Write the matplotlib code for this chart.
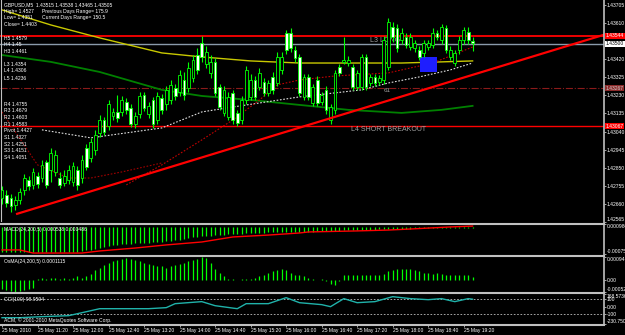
import matplotlib
matplotlib.use('Agg')
import matplotlib.pyplot as plt
from matplotlib.lines import Line2D
from matplotlib.patches import Rectangle
import numpy as np

plt.rcParams['font.family'] = ['Liberation Sans', 'DejaVu Sans']

# GBPUSD M5, 25 May 2010
opens = [1.42692, 1.42707, 1.42692, 1.42655, 1.42681, 1.42734, 1.42786, 1.42760, 1.42807, 1.42796,
         1.42880, 1.42839, 1.42828, 1.42796, 1.42770, 1.42786, 1.42776, 1.42839, 1.42796, 1.42954,
         1.42901, 1.42944, 1.43033, 1.43101, 1.43070, 1.43122, 1.43143, 1.43143, 1.43196, 1.43164,
         1.43080, 1.43133, 1.43232, 1.43133, 1.43206, 1.43101, 1.43217, 1.43185, 1.43206, 1.43269,
         1.43248, 1.43311, 1.43269, 1.43322, 1.43442, 1.43505, 1.43395, 1.43348, 1.43406, 1.43274,
         1.43138, 1.43117, 1.43243, 1.43138, 1.43101, 1.43206, 1.43222, 1.43311, 1.43274, 1.43301,
         1.43243, 1.43327, 1.43295, 1.43364, 1.43558, 1.43558, 1.43469, 1.43432, 1.43222, 1.43327,
         1.43190, 1.43311, 1.43196, 1.43259, 1.43101, 1.43154, 1.43379, 1.43406, 1.43400, 1.43379,
         1.43274, 1.43274, 1.43432, 1.43295, 1.43327, 1.43301, 1.43311, 1.43379, 1.43589, 1.43584,
         1.43521, 1.43537, 1.43484, 1.43479, 1.43469, 1.43453, 1.43484, 1.43495, 1.43558, 1.43521,
         1.43584, 1.43432, 1.43400, 1.43469, 1.43521, 1.43563, 1.43515]
highs = [1.42755, 1.42734, 1.42713, 1.42702, 1.42744, 1.42817, 1.42807, 1.42849, 1.42828, 1.42891,
         1.42891, 1.42954, 1.42944, 1.42828, 1.42839, 1.42865, 1.42880, 1.42859, 1.42917, 1.42975,
         1.43007, 1.43049, 1.43127, 1.43117, 1.43206, 1.43164, 1.43232, 1.43227, 1.43217, 1.43185,
         1.43143, 1.43248, 1.43248, 1.43196, 1.43222, 1.43248, 1.43238, 1.43280, 1.43311, 1.43290,
         1.43364, 1.43353, 1.43406, 1.43442, 1.43479, 1.43542, 1.43490, 1.43442, 1.43426, 1.43290,
         1.43280, 1.43248, 1.43259, 1.43154, 1.43227, 1.43385, 1.43343, 1.43332, 1.43374, 1.43322,
         1.43311, 1.43353, 1.43458, 1.43458, 1.43574, 1.43584, 1.43490, 1.43447, 1.43343, 1.43343,
         1.43290, 1.43332, 1.43248, 1.43280, 1.43185, 1.43364, 1.43395, 1.43537, 1.43437, 1.43395,
         1.43364, 1.43447, 1.43447, 1.43343, 1.43343, 1.43337, 1.43542, 1.43637, 1.43616, 1.43605,
         1.43584, 1.43558, 1.43558, 1.43521, 1.43490, 1.43521, 1.43521, 1.43584, 1.43574, 1.43605,
         1.43600, 1.43490, 1.43469, 1.43542, 1.43589, 1.43589, 1.43538]
lows = [1.42660, 1.42644, 1.42618, 1.42629, 1.42660, 1.42707, 1.42734, 1.42739, 1.42744, 1.42776,
        1.42744, 1.42776, 1.42807, 1.42744, 1.42755, 1.42765, 1.42755, 1.42734, 1.42770, 1.42839,
        1.42880, 1.42917, 1.43012, 1.43022, 1.43049, 1.43101, 1.43091, 1.43122, 1.43133, 1.43064,
        1.43059, 1.43112, 1.43148, 1.43112, 1.43059, 1.43080, 1.43133, 1.43154, 1.43185, 1.43206,
        1.43227, 1.43206, 1.43248, 1.43301, 1.43343, 1.43406, 1.43374, 1.43322, 1.43227, 1.43154,
        1.43122, 1.43101, 1.43080, 1.43070, 1.43080, 1.43185, 1.43206, 1.43206, 1.43259, 1.43227,
        1.43227, 1.43238, 1.43280, 1.43343, 1.43447, 1.43458, 1.43406, 1.43227, 1.43206, 1.43206,
        1.43175, 1.43175, 1.43180, 1.43133, 1.43080, 1.43133, 1.43332, 1.43395, 1.43385, 1.43259,
        1.43259, 1.43259, 1.43259, 1.43280, 1.43280, 1.43285, 1.43290, 1.43364, 1.43511, 1.43458,
        1.43500, 1.43479, 1.43469, 1.43458, 1.43416, 1.43432, 1.43469, 1.43479, 1.43521, 1.43500,
        1.43453, 1.43416, 1.43385, 1.43447, 1.43500, 1.43500, 1.43465]
closes = [1.42734, 1.42665, 1.42650, 1.42681, 1.42723, 1.42796, 1.42755, 1.42828, 1.42765, 1.42865,
          1.42760, 1.42928, 1.42917, 1.42760, 1.42807, 1.42839, 1.42859, 1.42760, 1.42891, 1.42854,
          1.42986, 1.43022, 1.43101, 1.43038, 1.43185, 1.43143, 1.43112, 1.43206, 1.43154, 1.43080,
          1.43122, 1.43227, 1.43164, 1.43175, 1.43080, 1.43227, 1.43154, 1.43259, 1.43285, 1.43227,
          1.43337, 1.43232, 1.43374, 1.43416, 1.43364, 1.43432, 1.43458, 1.43406, 1.43243, 1.43169,
          1.43259, 1.43222, 1.43101, 1.43085, 1.43206, 1.43364, 1.43311, 1.43222, 1.43348, 1.43243,
          1.43295, 1.43259, 1.43432, 1.43432, 1.43469, 1.43479, 1.43426, 1.43243, 1.43327, 1.43222,
          1.43274, 1.43190, 1.43232, 1.43154, 1.43169, 1.43348, 1.43348, 1.43416, 1.43416, 1.43274,
          1.43348, 1.43432, 1.43274, 1.43327, 1.43295, 1.43322, 1.43521, 1.43616, 1.43537, 1.43479,
          1.43558, 1.43495, 1.43537, 1.43505, 1.43432, 1.43505, 1.43505, 1.43558, 1.43537, 1.43589,
          1.43469, 1.43469, 1.43453, 1.43521, 1.43574, 1.43521, 1.43505]

# moving averages (bar index, price)
ma_yellow_x = [0, 11, 22, 36, 45, 56, 67, 78, 90, 99, 106]
ma_yellow_y = [1.43679, 1.43600, 1.43532, 1.43453, 1.43432, 1.43411, 1.43400, 1.43400, 1.43400, 1.43406, 1.43411]
ma_green_x = [0, 11, 22, 36, 45, 56, 67, 78, 90, 99, 106]
ma_green_y = [1.43442, 1.43406, 1.43353, 1.43259, 1.43227, 1.43206, 1.43180, 1.43154, 1.43138, 1.43154, 1.43175]
ma_white_x = [9, 20, 36, 45, 52, 67, 81, 87, 94, 101, 106]
ma_white_y = [1.43049, 1.43007, 1.43059, 1.43143, 1.43169, 1.43222, 1.43259, 1.43295, 1.43327, 1.43364, 1.43400]
ma_red_x = [28, 36, 45, 52, 58, 62, 67, 75, 87, 97, 106]
ma_red_y = [1.42760, 1.42865, 1.42996, 1.43101, 1.43206, 1.43285, 1.43311, 1.43332, 1.43348, 1.43400, 1.43484]
ma_reddot_x = [0, 8, 15, 20, 27, 36]
ma_reddot_y = [1.43143, 1.42865, 1.42796, 1.42796, 1.42828, 1.42875]

trend_x = [3.4, 135.4]
trend_y = [1.42608, 1.43547]
box_x = [94.1, 97.9]
box_y = [1.43353, 1.43432]

levels = {'H5': 1.43544, 'H4': 1.43500, 'mid': 1.43267, 'L4': 1.43067}

macd = [-0.00064] * 18 + [
    -0.00058, -0.00052, -0.00052, -0.00047, -0.00041, -0.00035, -0.00029,
    -0.00023, -0.00023, -0.00018, -0.00018, -0.00018, -0.00012, -0.00012, -0.00012,
    -0.00012, -0.00006, -0.00006, -0.00006, 0.0, 0.0, 0.00006, 0.00006,
    0.00011, 0.00017, 0.00023, 0.00023, 0.00029, 0.00029, 0.00029, 0.00034,
    0.00034, 0.00034, 0.0004, 0.0004, 0.0004, 0.0004, 0.00046, 0.00046,
    0.00046, 0.00046, 0.00046, 0.00052, 0.00052, 0.00052, 0.00052, 0.00052,
    0.00052, 0.00052, 0.00052, 0.00052, 0.00052, 0.00052, 0.00058, 0.00058,
    0.00058, 0.00058, 0.00058, 0.00058, 0.00063, 0.00063, 0.00063, 0.00063,
    0.00063, 0.00063, 0.00063, 0.00063, 0.00069, 0.00069, 0.00069, 0.00069,
    0.00069, 0.00069, 0.00069, 0.00069, 0.00075, 0.00075, 0.00075, 0.00075,
    0.00075, 0.00075, 0.00075, 0.00075, 0.00075, 0.00075, 0.00075, 0.00075, 0.00075, 0.00075]
signal_x = [0, 4, 7, 18, 22, 30, 37, 45, 52, 60, 67, 69, 80, 87, 92, 101, 106]
signal_y = [-0.00052, -0.00052, -0.0007, -0.0007, -0.00058, -0.00041, -0.00023, -0.00006,
            0.00023, 0.00034, 0.00046, 0.00052, 0.00058, 0.00063, 0.00069, 0.00081, 0.00086]

osma = [-0.00038, -0.00042, -0.00046, -0.0005, -0.00046, -0.00042, -0.00038, -0.00034,
        0.00004, 0.00008, 0.00004, 0.00008, 0.00008, 0.00004, 0.00008, 0.00004, 0.00008, 0.00013, 0.00008,
        0.00013, 0.00025, 0.00038, 0.0005, 0.00059, 0.00067,
        0.00076, 0.0008, 0.00084, 0.00088, 0.00084, 0.0008, 0.00076,
        0.00067, 0.00063, 0.00059, 0.00055, 0.00055, 0.0005, 0.00055, 0.00059,
        0.00063, 0.00071, 0.00076, 0.0008, 0.00084, 0.00092, 0.00088,
        0.00067, 0.00046, 0.00029, 0.00013, 0.00004,
        0.00004, 0.0, 0.00004, 0.00004, 0.00004, 0.00008,
        0.00013, 0.00021, 0.00029, 0.00034, 0.00038, 0.00042, 0.00038,
        0.00029, 0.00021, 0.00017, 0.00013, 0.00008,
        0.00004, 0.0, 0.00004,
        -0.00008, -0.00017, -0.00021, -0.00008,
        0.00017, 0.00021, 0.00021, 0.00021, 0.00021, 0.00017, 0.00021, 0.00021, 0.00021, 0.00025, 0.00034, 0.00038,
        0.00042, 0.00046, 0.00046, 0.00042, 0.00038, 0.00034,
        0.00029, 0.00029, 0.00025, 0.00029, 0.00025, 0.00021,
        0.00017, 0.00017, 0.00021, 0.00017, 0.00017, 0.00011]

cci_x = [0, 4, 9, 15, 19, 22, 26, 33, 37, 39, 45, 48, 53, 55, 60, 64, 67, 72, 74, 77, 80, 84, 88, 92, 96, 99, 102, 105, 106]
cci_y = [-147, -147, -133, -120, -67, -27, -27, -27, -13, 40, 67, 13, -27, 40, 40, 120, 53, 27, 0, 107,
         53, 67, 133, 107, 93, 107, 67, 107, 99]

time_pos = [0, 8, 16, 24, 32, 40, 48, 56, 64, 72, 80, 88, 96, 104]
time_lbl = ['25 May 2010', '25 May 11:20', '25 May 12:00', '25 May 12:40', '25 May 13:20',
            '25 May 14:00', '25 May 14:40', '25 May 15:20', '25 May 16:00', '25 May 16:40',
            '25 May 17:20', '25 May 18:00', '25 May 18:40', '25 May 19:20']

price_ticks = [1.43705, 1.43610, 1.43420, 1.43325, 1.43230, 1.43135, 1.43040,
               1.42945, 1.42850, 1.42755, 1.42660, 1.42565]

# ---------------- figure ----------------
W, H = 625, 335
fig = plt.figure(figsize=(W / 100, H / 100), dpi=100, facecolor='black')
LIME = '#00ff00'
GRAY = '#c0c0c0'
XL = (-0.45, 135.6)
FS = 3.6   # terminal-sized small font


def px_axes(x0, y0, x1, y1):
    a = fig.add_axes([x0 / W, 1 - y1 / H, (x1 - x0) / W, (y1 - y0) / H])
    a.set_facecolor('black')
    for s in a.spines.values():
        s.set_visible(False)
    a.set_xlim(*XL)
    a.set_xticks([])
    a.yaxis.tick_right()
    a.tick_params(axis='y', direction='out', length=1.5, width=0.6, color=GRAY,
                  labelsize=FS, labelcolor='white', pad=0.5)
    return a


def set_scale(a, ticks, labels):
    a.set_yticks(ticks)
    a.set_yticklabels(labels)
    lo, hi = a.get_ylim()
    # keep end labels inside their own window
    for t in a.get_yticklabels():
        txt = t.get_text()
        if txt == labels[0] and hi - ticks[0] < 0.02 * (hi - lo):
            t.set_va('top')
        if txt == labels[-1] and ticks[-1] - lo < 0.02 * (hi - lo):
            t.set_va('bottom')


def ftext(x, y, s, **kw):
    kw.setdefault('color', 'white')
    kw.setdefault('fontsize', FS)
    fig.text(x / W, 1 - y / H, s, va='center', ha='left', **kw)


ax = px_axes(0, 0, 604, 222)
ax.set_ylim(1.425655, 1.43731)
set_scale(ax, price_ticks, ['%.5f' % v for v in price_ticks])

x = np.arange(len(opens))
o = np.array(opens); c = np.array(closes)
ax.axhline(levels['H5'], color='red', lw=1.3, zorder=1)
ax.axhline(levels['H4'], color='#8a9aaa', lw=1.0, zorder=1)
ax.axhline(levels['mid'], color='#8b1a1a', lw=0.8, ls='-.', zorder=1)
ax.axhline(levels['L4'], color='red', lw=1.0, zorder=1)

ax.plot(ma_yellow_x, ma_yellow_y, color='#c8c800', lw=1.0, zorder=2)
ax.plot(ma_green_x, ma_green_y, color='#008000', lw=1.3, zorder=2)
ax.plot(ma_white_x, ma_white_y, color='#e0e0e0', lw=0.8, ls=(0, (1.5, 1.5)), zorder=2)
ax.plot(ma_red_x, ma_red_y, color='#c00000', lw=0.8, ls=(0, (1.5, 1.5)), zorder=2)
ax.plot(ma_reddot_x, ma_reddot_y, color='#a00000', lw=0.8, ls=(0, (1.5, 1.5)), zorder=2)

ax.add_patch(Rectangle((box_x[0], box_y[0]), box_x[1] - box_x[0], box_y[1] - box_y[0],
                       facecolor='#1e1eff', edgecolor='none', zorder=2))

ax.vlines(x, lows, highs, color=LIME, lw=0.8, zorder=3)
bottom = np.minimum(o, c)
height = np.maximum(np.abs(c - o), 0.00002)
faces = ['white' if cc < oo else 'black' for oo, cc in zip(o, c)]
ax.bar(x, height, bottom=bottom, width=0.62, color=faces, edgecolor=LIME, linewidth=0.6, zorder=4)

ax.plot(trend_x, trend_y, color='red', lw=1.6, zorder=5)

ax.text(78.5, levels['L4'], 'L4 SHORT BREAKOUT', color='#a0a0a0', fontsize=5, va='top', zorder=1)
ax.text(83.0, levels['H4'], 'L3 LONG', color='#a0a0a0', fontsize=5, va='bottom', zorder=1)
ax.text(86.0, levels['mid'], '61', color='#a0a0a0', fontsize=4.5, va='top', zorder=1)
ax.axvline(-0.3, color=GRAY, lw=0.8)

# boxed price labels on the scale
for val, fc, tc in [(levels['H5'], 'red', 'white'), (levels['H4'], 'white', 'black'),
                    (levels['mid'], '#8b2a2a', '#d0d0d0'), (levels['L4'], 'red', 'white')]:
    ax.text(1.003, val, '%.5f' % val, transform=ax.get_yaxis_transform(), fontsize=FS,
            color=tc, va='center', ha='left', clip_on=False,
            bbox=dict(boxstyle='square,pad=0.1', fc=fc, ec='none'))

# MACD
am = px_axes(0, 224, 604, 254)
am.set_ylim(-0.000755, 0.00098)
set_scale(am, [0.00098, -0.000755], ['0.000980', '-0.000755'])
am.vlines(x, macd, 0.00078, color=LIME, lw=0.9)
am.plot(signal_x, signal_y, color='red', lw=1.0)

# OsMA
ao = px_axes(0, 257, 604, 292)
ao.set_ylim(-0.00052, 0.00094)
set_scale(ao, [0.00094, 0.0, -0.00052], ['0.00094', '0.00', '-0.00052'])
ao.vlines(x, 0, osma, color=LIME, lw=0.9)

# CCI
ac = px_axes(0, 294, 604, 324)
ac.set_ylim(-230.75, 168.57)
set_scale(ac, [168.57, 100, 0, -100, -230.75], ['168.5736', '100', '0.00', '-100', '-230.750'])
ac.axhline(100, color=GRAY, lw=0.6, ls=(0, (2, 2)))
ac.axhline(-100, color=GRAY, lw=0.6, ls=(0, (2, 2)))
ac.plot(cci_x, cci_y, color='#20b2aa', lw=1.0)
ac.set_xticks(time_pos)
ac.set_xticklabels(time_lbl, ha='left')
ac.tick_params(axis='x', direction='out', length=2, width=0.6, color=GRAY,
               labelsize=FS, labelcolor='white', pad=1)

# window borders
for yy in [223.5, 255.5, 293.0, 324.5]:
    fig.add_artist(Line2D([0, 604 / W], [1 - yy / H] * 2, color=GRAY, lw=1.5))
fig.add_artist(Line2D([604 / W] * 2, [1 - 324.5 / H, 1], color=GRAY, lw=1.2))

# overlay texts
ftext(4, 5, 'GBPUSD,M5  1.43515 1.43538 1.43465 1.43505')
ftext(4, 11.5, 'High= 1.4527')
ftext(42, 11.5, 'Previous Days Range= 175.9')
ftext(4, 17.5, 'Low= 1.4351')
ftext(42, 17.5, 'Current Days Range= 150.5')
ftext(4, 24, 'Close= 1.4403')
for yy, s in [(38, 'H5 1.4579'), (44.5, 'H4 1.45'), (51.5, 'H3 1.4461'), (64, 'L3 1.4354'),
              (71, 'L4 1.4306'), (78, 'L5 1.4236'), (104, 'R4 1.4755'), (111, 'R3 1.4679'),
              (117.5, 'R2 1.4603'), (124, 'R1 1.4583'), (131, 'Pivot 1.4427'), (137.5, 'S1 1.4327'),
              (144, 'S2 1.4251'), (151, 'S3 1.4151'), (157.5, 'S4 1.4051')]:
    ftext(4, yy, s)
ftext(4, 229, 'MACD(24,200,5) 0.000538 0.000486')
ftext(4, 262, 'OsMA(24,200,5) 0.0001115')
ftext(4, 299, 'CCI(100) 98.9594')
ftext(4, 320, 'ACM, © 2001-2010 MetaQuotes Software Corp.')

fig.savefig('out.png', dpi=100, facecolor='black')
